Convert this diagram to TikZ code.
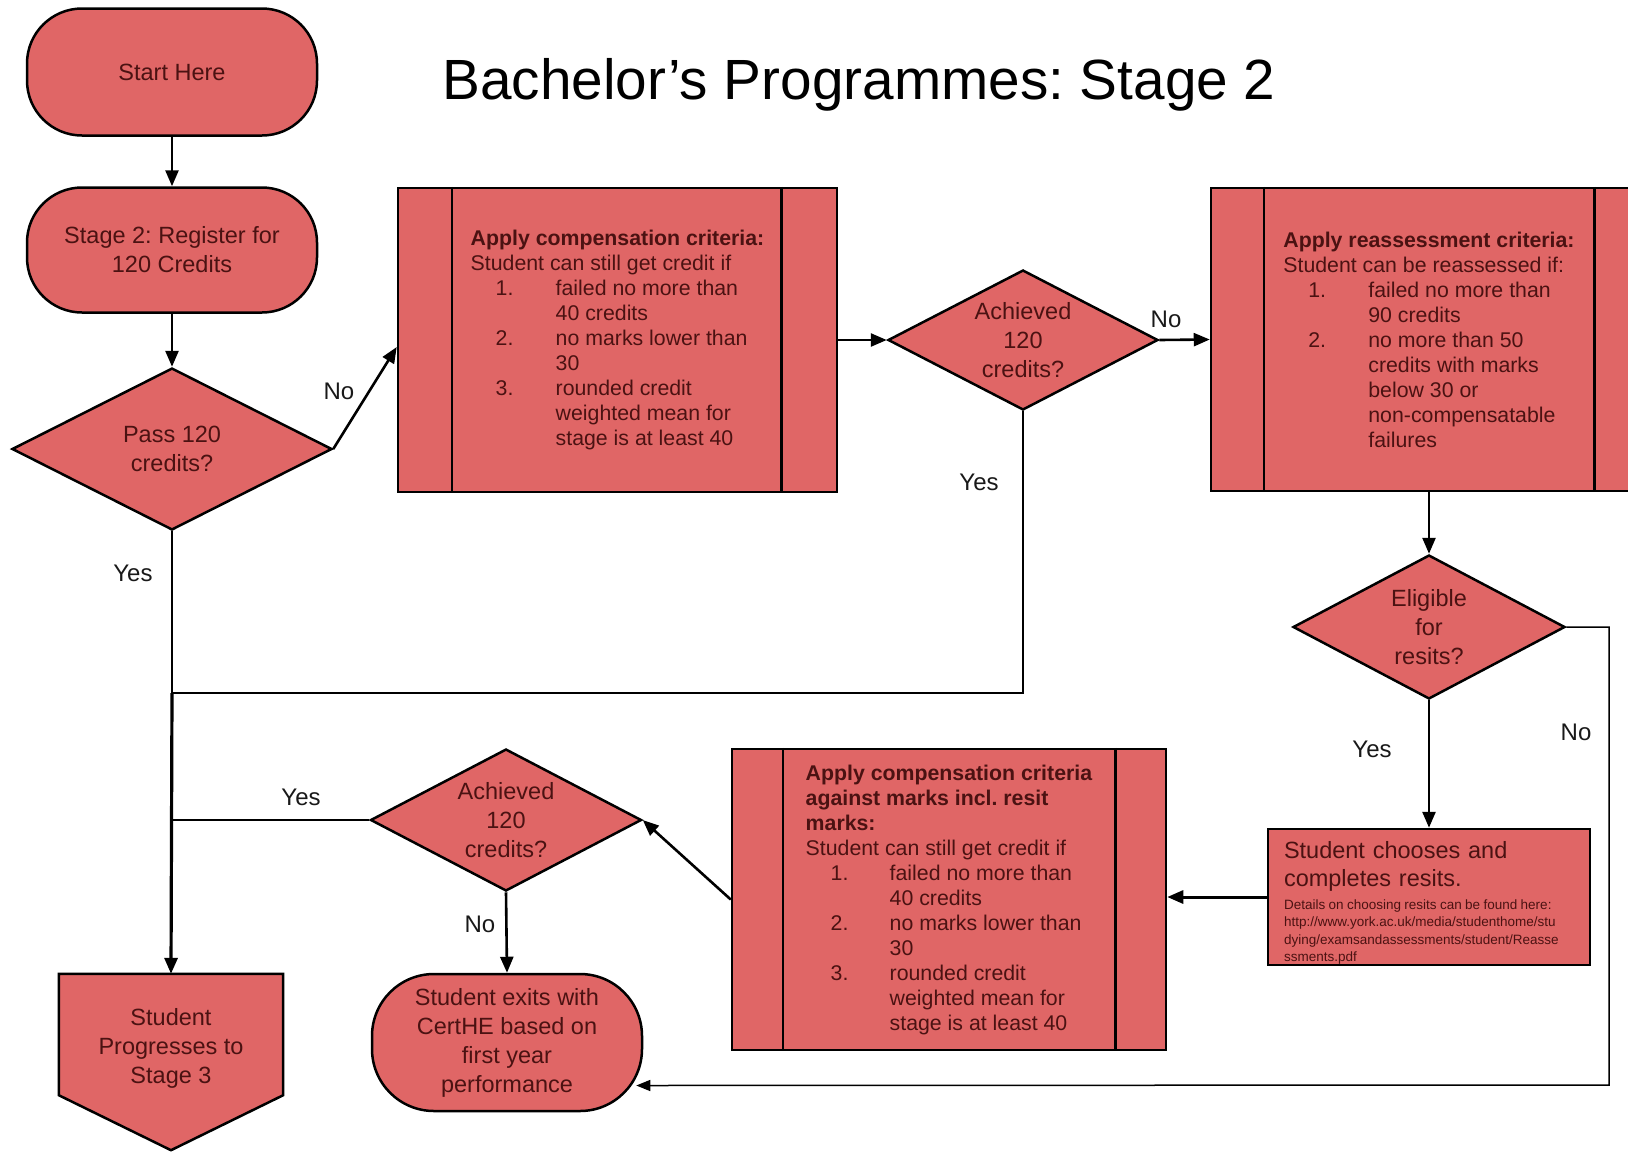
\documentclass[tikz,border=0pt]{standalone}
\usepackage{fontspec}
\setmainfont{Liberation Sans}
\usetikzlibrary{shapes.geometric,arrows.meta}
\definecolor{boxred}{RGB}{224,102,102}
\definecolor{boxtext}{RGB}{75,18,18}
\definecolor{labeltext}{RGB}{25,25,25}
\begin{document}
\frenchspacing
\begin{tikzpicture}[x=1pt,y=-1pt,
  base/.style={draw=black, line width=2.5pt, fill=boxred, text=boxtext,
    font=\frenchspacing\fontsize{23.5}{29}\selectfont, align=center, inner sep=0pt},
  term/.style={base, rectangle, rounded corners=55pt},
  decision/.style={base, diamond, aspect=2},
  proc/.style={base, rectangle, align=left, font=\frenchspacing\fontsize{21.3}{25}\selectfont},
  procbar/.style={line width=2.5pt},
  conn/.style={line width=2.6pt, -{Triangle[length=16pt,width=13pt]}},
  thinconn/.style={line width=1.5pt, -{Triangle[length=14pt,width=11pt]}},
  plainline/.style={line width=2.4pt},
  lbl/.style={text=labeltext, font=\fontsize{24}{29}\selectfont, inner sep=0pt},
]
\useasboundingbox (0,0) rectangle (1628,1152);
\clip (0,0) rectangle (1628,1152);
\fill[white] (0,0) rectangle (1628,1152);

% title
\node[font=\frenchspacing\fontsize{56.7}{68}\selectfont, text=black, inner sep=0pt, anchor=base] (title) at (859,99) {Bachelor’s Programmes: Stage 2};

% left column
\node[term, minimum width=290pt, minimum height=127pt] (start) at (172,72) {Start Here};
\node[term, minimum width=290pt, minimum height=125pt] (stage) at (172,250) {Stage 2: Register for\\120 Credits};
\node[decision, minimum width=320pt, minimum height=162pt] (pass) at (172,449) {Pass 120\\credits?};

% compensation box
\node[proc, minimum width=439pt, minimum height=304pt] (comp) at (617.5,340) {%
\textbf{Apply compensation criteria:}\\
Student can still get credit if\\
\hspace*{25pt}\makebox[60pt][l]{1.}failed no more than\\
\hspace*{85pt}40 credits\\
\hspace*{25pt}\makebox[60pt][l]{2.}no marks lower than\\
\hspace*{85pt}30\\
\hspace*{25pt}\makebox[60pt][l]{3.}rounded credit\\
\hspace*{85pt}weighted mean for\\
\hspace*{85pt}stage is at least 40};
\draw[procbar] ([xshift=55pt]comp.north west) -- ([xshift=55pt]comp.south west);
\draw[procbar] ([xshift=-57pt]comp.north east) -- ([xshift=-57pt]comp.south east);

\node[decision, minimum width=270pt, minimum height=140pt] (ach1) at (1023,340) {Achieved\\120\\credits?};

% reassessment box
\node[proc, minimum width=436pt, minimum height=303pt] (reass) at (1429,339.5) {%
\textbf{Apply reassessment criteria:}\\
Student can be reassessed if:\\
\hspace*{25pt}\makebox[60pt][l]{1.}failed no more than\\
\hspace*{85pt}90 credits\\
\hspace*{25pt}\makebox[60pt][l]{2.}no more than 50\\
\hspace*{85pt}credits with marks\\
\hspace*{85pt}below 30 or\\
\hspace*{85pt}non-compensatable\\
\hspace*{85pt}failures};
\draw[procbar] ([xshift=54pt]reass.north west) -- ([xshift=54pt]reass.south west);
\draw[procbar] ([xshift=-54pt]reass.north east) -- ([xshift=-54pt]reass.south east);

\node[decision, minimum width=272pt, minimum height=144pt] (elig) at (1429,627) {Eligible\\for\\resits?};

\node[base, rectangle, align=left, minimum width=322pt, minimum height=136pt,
  text width=306pt, inner xsep=8pt] (resits) at (1429,897) {%
{\fontsize{23.5}{28}\selectfont\hspace*{8pt}Student chooses and\\\hspace*{8pt}completes resits.\par}\vspace{5pt}%
{\fontsize{13.5}{17.6}\selectfont
\hspace*{8pt}\mbox{\spaceskip=0.25em Details on choosing resits can be found here:}\\
\hspace*{8pt}\mbox{http://www.york.ac.uk/media/studenthome/stu}\\
\hspace*{8pt}\mbox{dying/examsandassessments/student/Reasse}\\
\hspace*{8pt}\mbox{ssments.pdf}\par}\vspace{-12pt}};

% second compensation box
\node[proc, minimum width=434pt, minimum height=301pt] (comp2) at (949,899.5) {%
\textbf{Apply compensation criteria}\\
\textbf{against marks incl. resit}\\
\textbf{marks:}\\
Student can still get credit if\\
\hspace*{25pt}\makebox[59pt][l]{1.}failed no more than\\
\hspace*{84pt}40 credits\\
\hspace*{25pt}\makebox[59pt][l]{2.}no marks lower than\\
\hspace*{84pt}30\\
\hspace*{25pt}\makebox[59pt][l]{3.}rounded credit\\
\hspace*{84pt}weighted mean for\\
\hspace*{84pt}stage is at least 40};
\draw[procbar] ([xshift=52pt]comp2.north west) -- ([xshift=52pt]comp2.south west);
\draw[procbar] ([xshift=-52pt]comp2.north east) -- ([xshift=-52pt]comp2.south east);

\node[decision, minimum width=271pt, minimum height=142pt] (ach2) at (506,820) {Achieved\\120\\credits?};

\node[term, rounded corners=62pt, minimum width=270pt, minimum height=137pt] (certhe) at (507,1042.5) {Student exits with\\CertHE based on\\first year\\performance};

% progresses (off-page shape)
\node[minimum width=224pt, minimum height=176pt, inner sep=0pt] (prog) at (171,1062) {};
\draw[line width=2.5pt, fill=boxred, line join=miter] (prog.north west) -- (prog.north east) -- ([yshift=55pt]prog.south east) -- (prog.south) -- ([yshift=55pt]prog.south west) -- cycle;
\node[text=boxtext, font=\fontsize{23.5}{29}\selectfont, align=center, inner sep=0pt] (progtxt) at (171,1048) {Student\\Progresses to\\Stage 3};

% connectors
\coordinate (j1) at (172,693);
\coordinate (nocorner) at (1609,1085);
\draw[conn] (start.south) -- (stage.north);
\draw[conn] (stage.south) -- (pass.north);
\draw[conn] (pass.east) -- ([yshift=-7pt]comp.west);
\draw[conn] (comp.east) -- (ach1.west);
\draw[conn] (ach1.east) -- (reass.west);
\draw[conn] (reass.south) -- (elig.north);
\draw[conn] (elig.south) -- (resits.north);
\draw[conn, line width=3pt] (resits.west) -- (resits.west -| comp2.east);
\draw[conn] (comp2.west) -- (ach2.east);
\draw[conn] (ach2.south) -- (certhe.north);
\draw[plainline] (ach2.west) -- (ach2.west -| j1);
\draw[plainline] (ach1.south) |- (j1);
\draw[plainline] (pass.south) -- (j1);
\draw[conn, line width=3.2pt] (j1) -- (prog.north);
\draw[thinconn] (elig.east) -| (nocorner) -- ([xshift=-7pt,yshift=-43pt]certhe.east);

% labels
\node[lbl] (lno1) at (339,391) {No};
\node[lbl] (lyes1) at (133,573) {Yes};
\node[lbl] (lno2) at (1166,319) {No};
\node[lbl] (lyes2) at (979,482) {Yes};
\node[lbl] (lyes3) at (301,797) {Yes};
\node[lbl] (lno3) at (480,924) {No};
\node[lbl] (lyes4) at (1372,749) {Yes};
\node[lbl] (lno4) at (1576,732) {No};
\end{tikzpicture}
\end{document}
